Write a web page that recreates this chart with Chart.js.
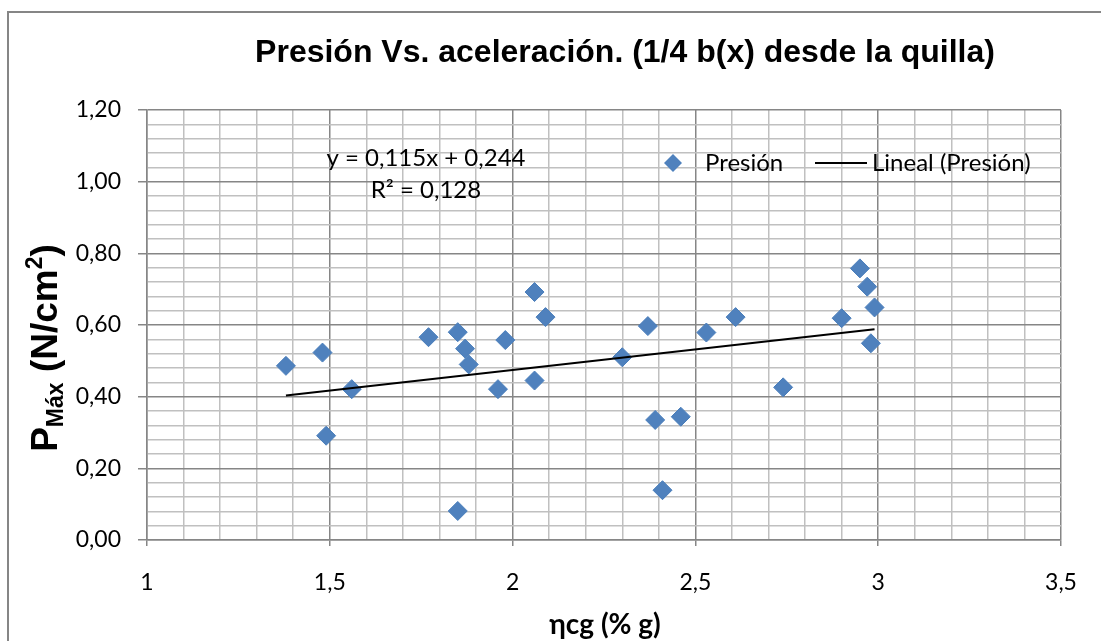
<!DOCTYPE html>
<html lang="es">
<head>
    <meta charset="UTF-8">
    <title>Presión Vs. aceleración</title>
    <script src="https://cdn.jsdelivr.net/npm/chart.js@4.4.1/dist/chart.umd.min.js"></script>
    <style>
        html, body { margin: 0; padding: 0; background: #fff; }
        #wrap { position: relative; width: 1101px; height: 641px; }
    </style>
</head>
<body>
<div id="wrap"><canvas id="myChart" width="1101" height="641"></canvas></div>
<script>
// measured points (ηcg, P max)
const presionX = [1.38, 1.48, 1.49, 1.56, 1.77, 1.85, 1.85, 1.87, 1.88, 1.96, 1.98, 2.06, 2.06, 2.09,
                  2.30, 2.37, 2.39, 2.41, 2.46, 2.53, 2.61, 2.74, 2.90, 2.95, 2.97, 2.99, 2.98];
const presionY = [0.486, 0.523, 0.291, 0.421, 0.566, 0.580, 0.081, 0.534, 0.490, 0.421, 0.558, 0.445, 0.692, 0.622,
                  0.510, 0.597, 0.335, 0.139, 0.344, 0.579, 0.622, 0.426, 0.619, 0.758, 0.707, 0.649, 0.549];

// trend line end points, as Excel drew them
const trendX = [1.38, 2.99];
const trendY = [0.403, 0.588];

const eqText = 'y = 0,115x + 0,244';
const r2Text = 'R² = 0,128';

// axis ticks: major ones get labels
const xMin = 1, xMax = 3.5, xMinorStep = 0.1, xMajorStep = 0.5;
const yMin = 0, yMax = 1.2, yMinorStep = 0.04, yMajorStep = 0.2;

const darkGrid = '#868686';
const lightGrid = '#c0c0c0';
const blue = '#4f81bd';

function makeTicks(min, max, step) {
    const out = [];
    const n = Math.round((max - min) / step);
    for (let i = 0; i <= n; i++) out.push(Math.round((min + i * step) * 1000) / 1000);
    return out;
}
const xTicks = makeTicks(xMin, xMax, xMinorStep);
const yTicks = makeTicks(yMin, yMax, yMinorStep);

function isMajor(v, step) {
    const q = v / step;
    return Math.abs(q - Math.round(q)) < 1e-6;
}

const tickFont = { family: 'Lato', size: 23 };

// titles, legend and equation drawn on top of the chart
const textPlugin = {
    id: 'texts',
    beforeDraw(chart) {
        const c = chart.ctx;
        c.save();
        c.strokeStyle = darkGrid;
        c.lineWidth = 2;
        c.beginPath();
        c.moveTo(8, 641);
        c.lineTo(8, 12);
        c.lineTo(1101, 12);
        c.stroke();
        c.restore();
    },
    afterDraw(chart) {
        const c = chart.ctx;
        c.save();
        c.fillStyle = '#000';
        c.textBaseline = 'middle';

        c.textAlign = 'center';
        c.font = 'bold 32px "Liberation Sans", Arial, sans-serif';
        c.fillText('Presión Vs. aceleración. (1/4 b(x) desde la quilla)', 625, 53);

        c.font = '24px Lato, sans-serif';
        c.fillText(eqText, 426, 158);
        c.fillText(r2Text, 426, 190);

        // legend
        c.fillStyle = blue;
        c.beginPath();
        c.moveTo(673, 154); c.lineTo(682, 163); c.lineTo(673, 172); c.lineTo(664, 163);
        c.closePath();
        c.fill();
        c.fillStyle = '#000';
        c.textAlign = 'left';
        c.fillText('Presión', 705, 163);
        c.strokeStyle = '#000';
        c.lineWidth = 2;
        c.beginPath();
        c.moveTo(815, 163); c.lineTo(867, 163);
        c.stroke();
        c.fillText('Lineal (Presión)', 872, 163);

        // x title
        c.textAlign = 'center';
        c.font = 'bold 28px Lato, sans-serif';
        c.fillText('ηcg (% g)', 605, 625);

        // y title, rotated, with sub/superscript
        c.translate(47, 348);
        c.rotate(-Math.PI / 2);
        const big = 'bold 37px "Liberation Sans", Arial, sans-serif';
        const small = 'bold 23px "Liberation Sans", Arial, sans-serif';
        const parts = [
            { t: 'P', f: big, dy: 0 },
            { t: 'Máx', f: small, dy: 10 },
            { t: ' (N/cm', f: big, dy: 0 },
            { t: '2', f: small, dy: -11 },
            { t: ')', f: big, dy: 0 }
        ];
        let total = 0;
        parts.forEach(p => { c.font = p.f; p.w = c.measureText(p.t).width; total += p.w; });
        let x = -total / 2;
        c.textAlign = 'left';
        parts.forEach(p => { c.font = p.f; c.fillText(p.t, x, p.dy); x += p.w; });
        c.restore();
    }
};

const ctx = document.getElementById('myChart').getContext('2d');
new Chart(ctx, {
    type: 'scatter',
    data: {
        datasets: [
            {
                label: 'Lineal (Presión)',
                type: 'line',
                data: trendX.map((x, i) => ({ x: x, y: trendY[i] })),
                borderColor: '#000',
                borderWidth: 2,
                pointRadius: 0,
                fill: false,
                order: 0
            },
            {
                label: 'Presión',
                data: presionX.map((x, i) => ({ x: x, y: presionY[i] })),
                pointStyle: 'rectRot',
                pointRadius: 9.5,
                backgroundColor: blue,
                borderColor: '#4a7ebb',
                borderWidth: 1,
                order: 1
            }
        ]
    },
    options: {
        responsive: false,
        animation: false,
        layout: { padding: { left: 0, top: 110, right: 40, bottom: 0 } },
        plugins: { legend: { display: false }, tooltip: { enabled: false } },
        scales: {
            x: {
                type: 'linear',
                min: xMin,
                max: xMax,
                afterBuildTicks: s => { s.ticks = xTicks.map(v => ({ value: v })); },
                afterFit: s => { s.height = 101; },
                ticks: {
                    autoSkip: false,
                    maxRotation: 0,
                    padding: 23,
                    color: '#000',
                    font: tickFont,
                    callback: v => isMajor(v, xMajorStep) ? String(v).replace('.', ',') : ''
                },
                grid: {
                    color: c => isMajor(c.tick.value, xMajorStep) ? darkGrid : lightGrid,
                    lineWidth: 1.5,
                    tickColor: c => isMajor(c.tick.value, xMajorStep) ? darkGrid : 'rgba(0,0,0,0)',
                    tickLength: 6
                },
                border: { color: darkGrid, width: 1.5 }
            },
            y: {
                type: 'linear',
                min: yMin,
                max: yMax,
                afterBuildTicks: s => { s.ticks = yTicks.map(v => ({ value: v })); },
                afterFit: s => { s.width = 147; },
                ticks: {
                    autoSkip: false,
                    padding: 17,
                    color: '#000',
                    font: tickFont,
                    callback: v => isMajor(v, yMajorStep) ? v.toFixed(2).replace('.', ',') : ''
                },
                grid: {
                    color: c => isMajor(c.tick.value, yMajorStep) ? darkGrid : lightGrid,
                    lineWidth: 1.5,
                    tickColor: c => isMajor(c.tick.value, yMajorStep) ? darkGrid : 'rgba(0,0,0,0)',
                    tickLength: 9
                },
                border: { color: darkGrid, width: 1.5 }
            }
        }
    },
    plugins: [textPlugin]
});
</script>
</body>
</html>
